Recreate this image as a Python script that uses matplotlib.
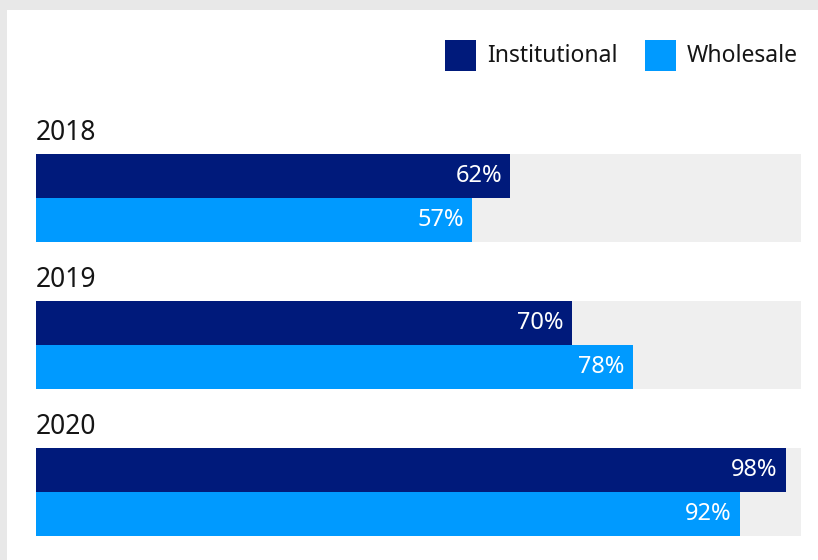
import matplotlib
matplotlib.use("Agg")
import matplotlib.pyplot as plt
from matplotlib.patches import Rectangle

years = ["2018", "2019", "2020"]
institutional = [62, 70, 98]
wholesale = [57, 78, 92]
series_names = ["Institutional", "Wholesale"]

DARK = "#001A7B"
LIGHT = "#009AFF"
TRACK = "#EFEFEF"
BORDER = "#E8E8E8"
FONT = "Noto Sans"

W, H = 818, 560
fig = plt.figure(figsize=(W / 100, H / 100), dpi=100)
fig.patch.set_facecolor(BORDER)
fig.patches.append(Rectangle((7 / W, 0), 1, 1 - 10 / H, transform=fig.transFigure,
                             facecolor="white", edgecolor="none", zorder=-5))

ax = fig.add_axes([36 / W, 0, (801 - 36) / W, 1])
ax.set_zorder(2)
ax.set_xlim(0, 100)
ax.set_ylim(H, 0)
ax.axis("off")

bar_h = 44
for i, yr in enumerate(years):
    y_dark = 176 + 147 * i
    y_light = y_dark + bar_h
    ax.barh([y_dark, y_light], [100, 100], height=bar_h, color=TRACK, zorder=1)
    ax.barh(y_dark, institutional[i], height=bar_h, color=DARK, zorder=2)
    ax.barh(y_light, wholesale[i], height=bar_h, color=LIGHT, zorder=2)
    for y, v in [(y_dark, institutional[i]), (y_light, wholesale[i])]:
        ax.annotate(f"{v}%", (v, y), xytext=(-8, 0), textcoords="offset pixels",
                    ha="right", va="center", color="white", fontsize=17, family=FONT, zorder=3)
    ax.text(0, y_dark - bar_h / 2 - 14, yr, ha="left", va="baseline", fontsize=19,
            family=FONT, color="#151515")

# legend
colors = [DARK, LIGHT]
sq_x = [445, 645]
for name, c, x in zip(series_names, colors, sq_x):
    fig.patches.append(Rectangle((x / W, 1 - 71 / H), 31 / W, 31 / H, transform=fig.transFigure,
                                 facecolor=c, edgecolor="none", zorder=1))
    fig.text((x + 42) / W, 1 - 56 / H, name, ha="left", va="center", fontsize=16.5,
             family=FONT, color="#151515", zorder=3)

fig.savefig("out.png", dpi=100, facecolor=fig.get_facecolor())
